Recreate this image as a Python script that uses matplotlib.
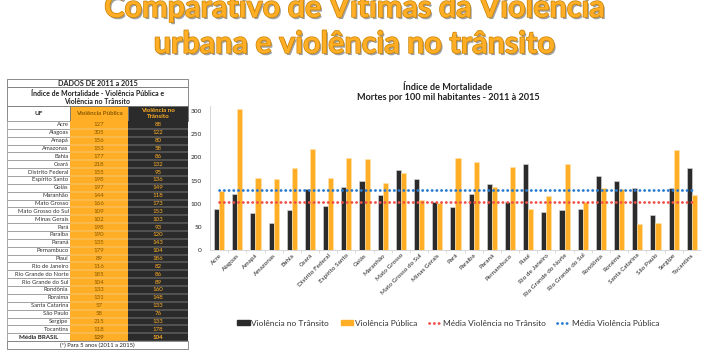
import numpy as np
import matplotlib.pyplot as plt
import matplotlib.patheffects as pe
from matplotlib.patches import Rectangle
from matplotlib.lines import Line2D

# dados da tabela
ufs = ['Acre', 'Alagoas', 'Amapá', 'Amazonas', 'Bahia', 'Ceará', 'Distrito Federal',
       'Espírito Santo', 'Goiás', 'Maranhão', 'Mato Grosso', 'Mato Grosso do Sul',
       'Minas Gerais', 'Pará', 'Paraíba', 'Paraná', 'Pernambuco', 'Piauí',
       'Rio de Janeiro', 'Rio Grande do Norte', 'Rio Grande do Sul', 'Rondônia',
       'Roraima', 'Santa Catarina', 'São Paulo', 'Sergipe', 'Tocantins']
publica = [127, 305, 156, 153, 177, 218, 155, 198, 197, 144, 166, 109, 102, 198,
           190, 135, 179, 89, 116, 185, 104, 133, 131, 57, 58, 215, 118]
transito = [88, 122, 80, 58, 86, 132, 95, 136, 149, 118, 173, 153, 103, 93, 120,
            143, 104, 186, 82, 86, 89, 160, 148, 133, 76, 133, 178]
media_publica = 129
media_transito = 104
y_ticks = [0, 50, 100, 150, 200, 250, 300]

ORANGE = '#FFAE25'
DARK = '#2B2B2B'
W, H = 708, 350

plt.rcParams['font.family'] = ['Lato', 'DejaVu Sans']
fig = plt.figure(figsize=(W / 100, H / 100), dpi=100)
fig.patch.set_facecolor('white')

# titulo principal
shadow = [pe.SimplePatchShadow(offset=(1.2, -1.5), shadow_rgbFace='#555555', alpha=0.55),
          pe.withStroke(linewidth=1.0, foreground='#C98100')]
fig.text(0.5, 1 - 17 / H, 'Comparativo de Vítimas da Violência', ha='center', va='baseline',
         fontsize=22, fontweight='bold', color=ORANGE, path_effects=shadow)
fig.text(0.5, 1 - 53 / H, 'urbana e violência no trânsito', ha='center', va='baseline',
         fontsize=22, fontweight='bold', color=ORANGE, path_effects=shadow)

# tabela desenhada em coordenadas de pixel
tab = fig.add_axes([0, 0, 1, 1])
tab.set_xlim(0, W)
tab.set_ylim(H, 0)
tab.axis('off')

x0, x1, x2, x3 = 7, 70, 128, 188
grid = '#9A9A9A'
lw = 0.6

def box(x, y, w, h, fc='white', ec='#777777'):
    tab.add_patch(Rectangle((x, y), w, h, facecolor=fc, edgecolor=ec, linewidth=lw))

box(x0, 79, x3 - x0, 8)
tab.text((x0 + x3) / 2, 83, 'DADOS DE 2011 a 2015', ha='center', va='center',
         fontsize=5.2, fontweight='bold', color='#222222')
box(x0, 87, x3 - x0, 19)
tab.text((x0 + x3) / 2, 93, 'Índice de Mortalidade - Violência Pública e', ha='center',
         va='center', fontsize=5.0, fontweight='bold', color='#222222')
tab.text((x0 + x3) / 2, 101, 'Violência no Trânsito', ha='center', va='center',
         fontsize=5.0, fontweight='bold', color='#222222')

# cabecalho
box(x0, 106, x1 - x0, 15)
box(x1, 106, x2 - x1, 15, fc=ORANGE)
box(x2, 106, x3 - x2, 15, fc=DARK)
tab.text((x0 + x1) / 2, 113.5, 'UF', ha='center', va='center', fontsize=4.6,
         fontweight='bold', color='#222222')
tab.text((x1 + x2) / 2, 113.5, 'Violência Pública', ha='center', va='center',
         fontsize=4.4, fontweight='bold', color='#8A5A00')
tab.text((x2 + x3) / 2, 113.5, 'Violência no\nTrânsito', ha='center', va='center',
         fontsize=4.4, fontweight='bold', color=ORANGE, linespacing=1.1)

rh = 7.86
y = 121
rows = list(zip(ufs, publica, transito)) + [('Média BRASIL', media_publica, media_transito)]
for k, (uf, vp, vt) in enumerate(rows):
    last = k == len(rows) - 1
    box(x0, y, x1 - x0, rh, ec=grid)
    tab.add_patch(Rectangle((x1, y), x2 - x1, rh, facecolor=ORANGE, edgecolor='none'))
    tab.add_patch(Rectangle((x2, y), x3 - x2, rh, facecolor=DARK, edgecolor='none'))
    tab.plot([x1, x3], [y + rh, y + rh], color='#E6E6E6' if not last else '#999999', lw=0.3)
    wt = 'bold' if last else 'normal'
    if last:
        tab.text((x0 + x1) / 2, y + rh / 2, uf, ha='center', va='center', fontsize=4.4,
                 fontweight='bold', color='#222222')
    else:
        tab.text(x1 - 1.5, y + rh / 2, uf, ha='right', va='center', fontsize=4.2, color='#333333')
    tab.text((x1 + x2) / 2, y + rh / 2, str(vp), ha='center', va='center', fontsize=4.4,
             fontweight=wt, color='#8A5A00')
    tab.text((x2 + x3) / 2, y + rh / 2, str(vt), ha='center', va='center', fontsize=4.4,
             fontweight=wt, color=ORANGE)
    y += rh
box(x0, y, x3 - x0, 8, ec='#777777')
tab.text((x0 + x3) / 2, y + 4, '(*) Para 5 anos (2011 a 2015)', ha='center', va='center',
         fontsize=4.2, color='#222222')

# grafico de barras
ax = fig.add_axes([210 / W, 1 - 250 / H, (700 - 210) / W, (250 - 106) / H])
x = np.arange(len(ufs))
bw = 0.28
ax.bar(x - bw / 2, transito, bw, color=DARK, edgecolor='#DDDDDD', linewidth=0.4,
       label='Violência no Trânsito', zorder=2)
ax.bar(x + bw / 2, publica, bw, color=ORANGE, edgecolor='#FFE2B0', linewidth=0.4,
       label='Violência Pública', zorder=2)
ax.plot(x, [media_transito] * len(ufs), color='#F0504A', lw=2.0,
        linestyle=(0, (0.1, 1.6)), dash_capstyle='round', zorder=3,
        label='Média Violência no Trânsito')
ax.plot(x, [media_publica] * len(ufs), color='#2A7BD0', lw=2.0,
        linestyle=(0, (0.1, 1.6)), dash_capstyle='round', zorder=3,
        label='Média Violência Pública')

ax.set_xlim(-0.5, 26.45)
ax.set_ylim(0, 311)
ax.set_yticks(y_ticks)
ax.tick_params(axis='y', labelsize=4.6, length=0, pad=6, labelcolor='#222222')
ax.set_xticks(x)
ax.set_xticklabels(ufs, rotation=45, ha='right', rotation_mode='anchor',
                   fontsize=4.6, color='#222222')
ax.tick_params(axis='x', length=0, pad=2)
ax.set_xticks(x[:-1] + 0.5, minor=True)
ax.tick_params(axis='x', which='minor', length=2.5, color='#CCCCCC', width=0.5)
for s in ['top', 'right']:
    ax.spines[s].set_visible(False)
for s in ['left', 'bottom']:
    ax.spines[s].set_color('#D0D0D0')
    ax.spines[s].set_linewidth(0.6)

fig.text(448 / W, 1 - 88 / H, 'Índice de Mortalidade', ha='center', va='center',
         fontsize=6.6, fontweight='bold', color='#222222')
fig.text(448 / W, 1 - 98 / H, 'Mortes por 100 mil habitantes - 2011 à 2015', ha='center',
         va='center', fontsize=6.6, fontweight='bold', color='#222222')

handles = [Rectangle((0, 0), 1, 1, color=DARK), Rectangle((0, 0), 1, 1, color=ORANGE),
           Line2D([], [], color='#F0504A', lw=2.0, linestyle=(0, (0.1, 1.6)), dash_capstyle='round'),
           Line2D([], [], color='#2A7BD0', lw=2.0, linestyle=(0, (0.1, 1.6)), dash_capstyle='round')]
labels = ['Violência no Trânsito', 'Violência Pública', 'Média Violência no Trânsito',
          'Média Violência Pública']
fig.legend(handles, labels, loc='center', bbox_to_anchor=(448 / W, 1 - 323 / H), ncol=4,
           frameon=False, fontsize=6.0, handlelength=1.5, handleheight=0.6,
           handletextpad=0.2, columnspacing=1.4, labelcolor='#333333')

fig.savefig('out.png', dpi=100, facecolor='white')
